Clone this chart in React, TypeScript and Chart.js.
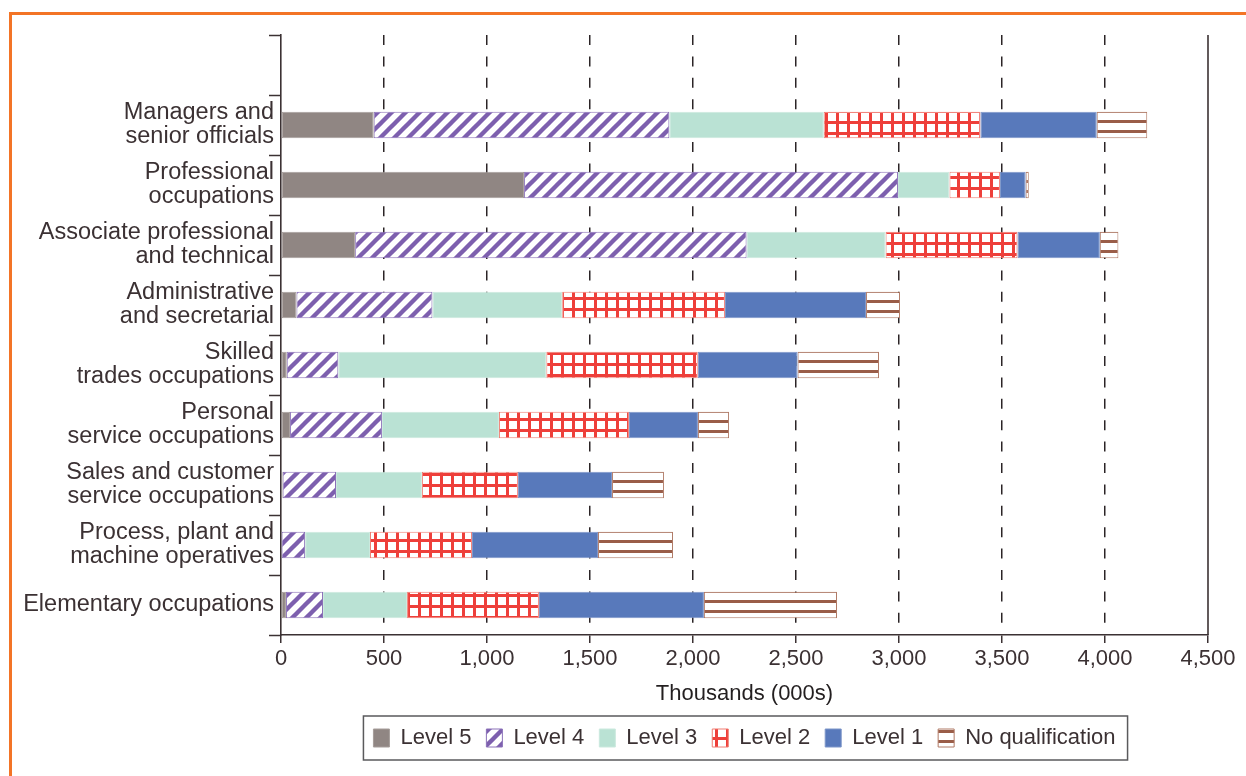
import React, { useEffect, useRef } from "react";
import { Chart, registerables } from "chart.js";

Chart.register(...registerables);

const categories: (string | string[])[] = [
  ["Managers and", "senior officials"],
  ["Professional", "occupations"],
  ["Associate professional", "and technical"],
  ["Administrative", "and secretarial"],
  ["Skilled", "trades occupations"],
  ["Personal", "service occupations"],
  ["Sales and customer", "service occupations"],
  ["Process, plant and", "machine operatives"],
  "Elementary occupations",
];

const level5 = [450, 1180, 360, 75, 28, 44, 8, 3, 24];
const level4 = [1435, 1815, 1900, 660, 250, 446, 259, 114, 180];
const level3 = [750, 250, 675, 630, 1010, 568, 417, 315, 408];
const level2 = [760, 245, 640, 790, 735, 631, 466, 495, 640];
const level1 = [565, 125, 400, 685, 485, 335, 457, 612, 801];
const noQualification = [245, 15, 90, 165, 395, 151, 252, 364, 646];

const seriesNames = ["Level 5", "Level 4", "Level 3", "Level 2", "Level 1", "No qualification"];

const xTicks = [0, 500, 1000, 1500, 2000, 2500, 3000, 3500, 4000, 4500];

const FONT = "'Liberation Sans', Arial, Helvetica, sans-serif";
const TEXT = "#3b3133";

function makePattern(kind: string): CanvasPattern | string {
  const c = document.createElement("canvas");
  const size = kind === "stripes" ? 14 : kind === "grid" ? 11 : 10;
  c.width = size;
  c.height = size;
  const g = c.getContext("2d");
  if (!g) return "#fff";
  g.fillStyle = "#ffffff";
  g.fillRect(0, 0, size, size);
  if (kind === "stripes") {
    g.strokeStyle = "#7d5fae";
    g.lineWidth = 4.4;
    g.lineCap = "square";
    const segs = [
      [-size, size, size, -size],
      [0, 2 * size, 2 * size, 0],
      [-size, 2 * size, 2 * size, -size],
    ];
    for (const [a, b, cc, d] of segs) {
      g.beginPath();
      g.moveTo(a, b);
      g.lineTo(cc, d);
      g.stroke();
    }
  } else if (kind === "grid") {
    g.fillStyle = "#ee3f3a";
    g.fillRect(0, 0, 3, size);
    g.fillRect(0, 0, size, 3);
  } else if (kind === "hlines") {
    g.fillStyle = "#9a5d48";
    g.fillRect(0, 0, size, 3);
  }
  const p = g.createPattern(c, "repeat");
  return p || "#fff";
}

export default function App() {
  const ref = useRef<HTMLCanvasElement | null>(null);

  useEffect(() => {
    if (!ref.current) return;
    const labels = ["", ...categories];
    const pad = (arr: number[]) => [null, ...arr];

    const fills = [
      "#908683",
      makePattern("stripes"),
      "#bae2d4",
      makePattern("grid"),
      "#5879bb",
      makePattern("hlines"),
    ];
    const borders = ["#a69d9a", "#8a70b8", "#cbe9de", "#f07c72", "#7d96c9", "#b07a66"];
    const values = [level5, level4, level3, level2, level1, noQualification];

    const framePlugin = {
      id: "framePlugin",
      afterDraw(chart: any) {
        const { ctx, chartArea } = chart;
        ctx.save();
        ctx.strokeStyle = TEXT;
        ctx.lineWidth = 1.6;
        ctx.beginPath();
        ctx.moveTo(chartArea.right, chartArea.top);
        ctx.lineTo(chartArea.right, chartArea.bottom);
        ctx.stroke();
        const lg = chart.legend;
        if (lg && lg.legendHitBoxes && lg.legendHitBoxes.length) {
          const hb = lg.legendHitBoxes;
          const left = Math.min(...hb.map((h: any) => h.left)) - 10;
          const right = Math.max(...hb.map((h: any) => h.left + h.width)) + 12;
          const top = hb[0].top - 11;
          const bottom = hb[0].top + hb[0].height + 11;
          ctx.strokeStyle = "#5a5a5c";
          ctx.lineWidth = 1.5;
          ctx.strokeRect(left, top, right - left, bottom - top);
        }
        ctx.restore();
      },
    };

    const chart = new Chart(ref.current, {
      type: "bar",
      data: {
        labels,
        datasets: values.map((v, i) => ({
          label: seriesNames[i],
          data: pad(v),
          backgroundColor: fills[i] as any,
          borderColor: borders[i],
          borderWidth: 1,
          borderSkipped: false,
          categoryPercentage: 1,
          barPercentage: 0.44,
        })),
      },
      options: {
        indexAxis: "y",
        responsive: false,
        animation: false,
        devicePixelRatio: 1,
        layout: { padding: { left: 0, right: 38, top: 35, bottom: 17 } },
        plugins: {
          tooltip: { enabled: false },
          legend: {
            display: true,
            position: "bottom",
            fullSize: false,
            labels: {
              boxWidth: 16,
              boxHeight: 18,
              padding: 15,
              color: TEXT,
              font: { family: FONT, size: 22 },
            },
          },
        },
        scales: {
          x: {
            stacked: true,
            min: 0,
            max: 4500,
            afterBuildTicks: (scale: any) => {
              scale.ticks = xTicks.map((v) => ({ value: v }));
            },
            afterFit: (scale: any) => {
              scale.height = 77;
            },
            ticks: {
              color: TEXT,
              font: { family: FONT, size: 22 },
              padding: 3,
              maxRotation: 0,
              autoSkip: false,
              callback: (v: any) => Number(v).toLocaleString("en-US"),
            },
            grid: {
              display: true,
              drawOnChartArea: true,
              drawTicks: true,
              tickLength: 8,
              tickColor: TEXT,
              tickWidth: 1.5,
              tickBorderDash: [],
              lineWidth: 1.5,
              color: (ctx: any) =>
                ctx.tick && (ctx.tick.value === 0 || ctx.tick.value === 4500)
                  ? "rgba(0,0,0,0)"
                  : "#2b2426",
            },
            border: { display: true, color: TEXT, width: 1.6, dash: [10, 11.4] },
            title: {
              display: true,
              text: "Thousands (000s)",
              color: "#231f20",
              font: { family: FONT, size: 22 },
              padding: { top: 0, bottom: 5 },
            },
          },
          y: {
            stacked: true,
            afterFit: (scale: any) => {
              scale.width = 281;
            },
            ticks: {
              color: TEXT,
              font: { family: FONT, size: 23.5, lineHeight: 1.02 },
              padding: -5,
              autoSkip: false,
            },
            grid: {
              display: true,
              offset: true,
              drawOnChartArea: false,
              drawTicks: true,
              tickLength: 12,
              tickColor: TEXT,
              tickWidth: 1.5,
              color: TEXT,
            },
            border: { display: true, color: TEXT, width: 1.6 },
          },
        },
      },
      plugins: [framePlugin],
    } as any);

    return () => chart.destroy();
  }, []);

  return (
    <div style={{ position: "absolute", left: 0, top: 0, width: 1246, height: 776, background: "#fff" }}>
      <div
        style={{
          position: "absolute",
          left: 9,
          top: 12,
          width: 1260,
          height: 800,
          borderTop: "3px solid #f37426",
          borderLeft: "3px solid #f37426",
          boxSizing: "border-box",
        }}
      />
      <canvas
        ref={ref}
        width={1246}
        height={776}
        style={{ position: "absolute", left: 0, top: 0, width: 1246, height: 776 }}
      />
    </div>
  );
}
